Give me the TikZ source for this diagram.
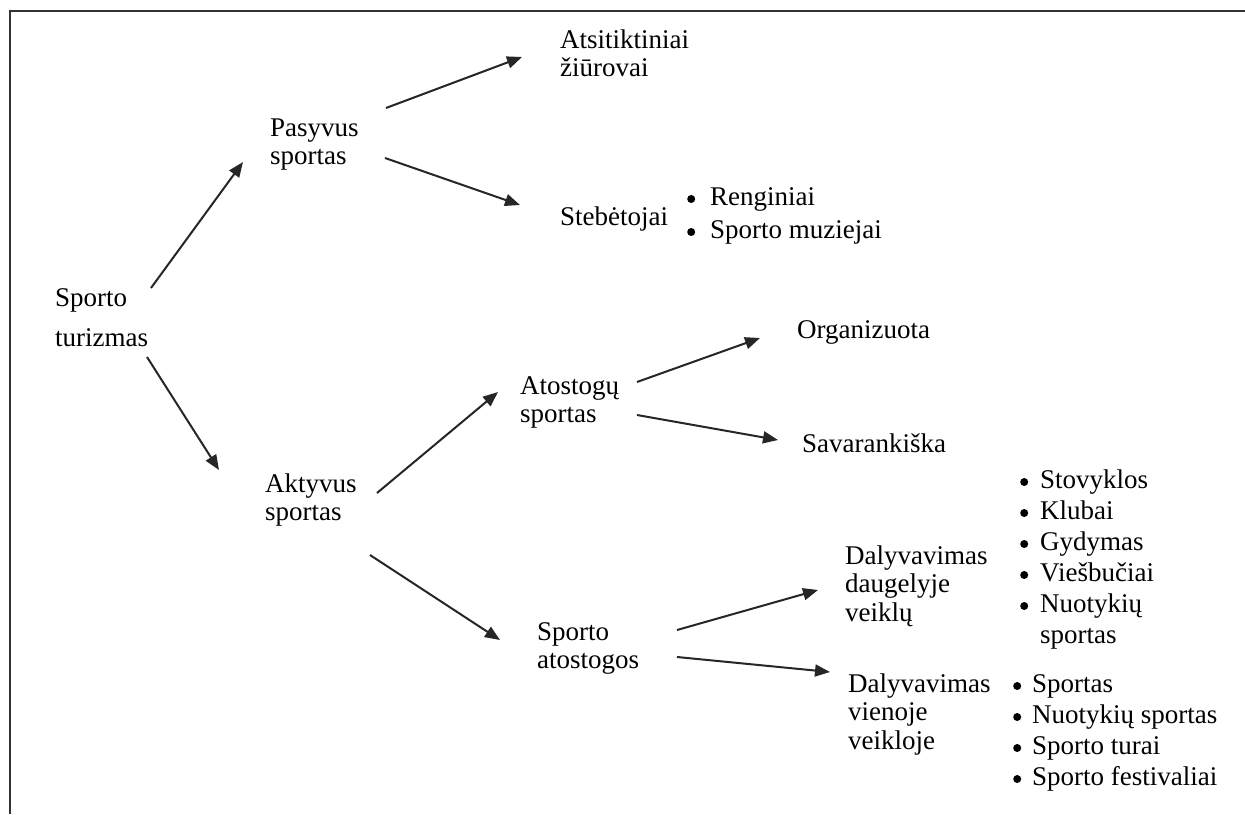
\documentclass[tikz,border=0pt]{standalone}
\usepackage{fontspec}
\setmainfont{Liberation Serif}
\usetikzlibrary{arrows.meta}
% round list marker
\newcommand{\lbul}[1]{\makebox[#1][l]{\raisebox{2pt}{\tikz\fill (0,0) circle[radius=4pt];}}}
\begin{document}
\begin{tikzpicture}[x=1pt,y=-1pt,
  label/.style={anchor=base west,inner sep=0pt,align=left,
    font=\fontsize{27}{28.5}\selectfont},
  bullets/.style={anchor=base west,inner sep=0pt,align=left,
    font=\fontsize{27}{31}\selectfont},
  arr/.style={line width=2pt,black!85,-{Triangle[length=15pt,width=12pt]}},
  frame/.style={line width=2pt,black!80}]
\useasboundingbox (0,0) rectangle (1245,814);
% open frame: top and left edges
\draw[frame] (1245,11) -- (10,11) -- (10,814);

% labels (placed at the baseline of their last line)
\node[label] (st)   at (55,346)  {Sporto\\[11.5pt]turizmas};
\node[label] (pas)  at (270,164.5) {Pasyvus\\sportas};
\node[label] (ats)  at (560,76.5)  {Atsitiktiniai\\žiūrovai};
\node[label] (steb) at (560,225) {Stebėtojai};
\node[label] (akt)  at (265,520.5) {Aktyvus\\sportas};
\node[label] (atos) at (520,422.5) {Atostogų\\sportas};
\node[label] (org)  at (797,338) {Organizuota};
\node[label] (sav)  at (802,452) {Savarankiška};
\node[label] (spa)  at (537,668.5) {Sporto\\atostogos};
\node[label] (dd)   at (845,621) {Dalyvavimas\\daugelyje\\veiklų};
\node[label] (dv)   at (848,749) {Dalyvavimas\\vienoje\\veikloje};

% bullet lists
\node[bullets,font=\fontsize{27}{33}\selectfont] (l1) at (687,238)
  {\lbul{23pt}Renginiai\\\lbul{23pt}Sporto muziejai};
\node[bullets] (l2) at (1020,643)
  {\lbul{20pt}Stovyklos\\\lbul{20pt}Klubai\\
   \lbul{20pt}Gydymas\\\lbul{20pt}Viešbučiai\\
   \lbul{20pt}Nuotykių\\\hspace*{20pt}sportas};
\node[bullets] (l3) at (1013,785)
  {\lbul{19pt}Sportas\\\lbul{19pt}Nuotykių sportas\\
   \lbul{19pt}Sporto turai\\\lbul{19pt}Sporto festivaliai};

% connectors
\draw[arr] ([shift={(96,-58)}]st.base west)     -- ([shift={(-27,-2.5)}]pas.base west);
\draw[arr] ([shift={(92,11)}]st.base west)      -- ([shift={(-46,-50.5)}]akt.base west);
\draw[arr] ([shift={(116,-56.5)}]pas.base west) -- ([shift={(-38,-19.5)}]ats.base west);
\draw[arr] ([shift={(115,-6.5)}]pas.base west)  -- ([shift={(-40,-20)}]steb.base west);
\draw[arr] ([shift={(112,-27.5)}]akt.base west) -- ([shift={(-22,-30.5)}]atos.base west);
\draw[arr] ([shift={(105,34.5)}]akt.base west)  -- ([shift={(-37,-28.5)}]spa.base west);
\draw[arr] ([shift={(117,-40.5)}]atos.base west) -- ([shift={(-37,0)}]org.base west);
\draw[arr] ([shift={(117,-7.5)}]atos.base west) -- ([shift={(-24,-12)}]sav.base west);
\draw[arr] ([shift={(140,-38.5)}]spa.base west) -- ([shift={(-27,-31)}]dd.base west);
\draw[arr] ([shift={(140,-11.5)}]spa.base west) -- ([shift={(-18,-77)}]dv.base west);
\end{tikzpicture}
\end{document}
